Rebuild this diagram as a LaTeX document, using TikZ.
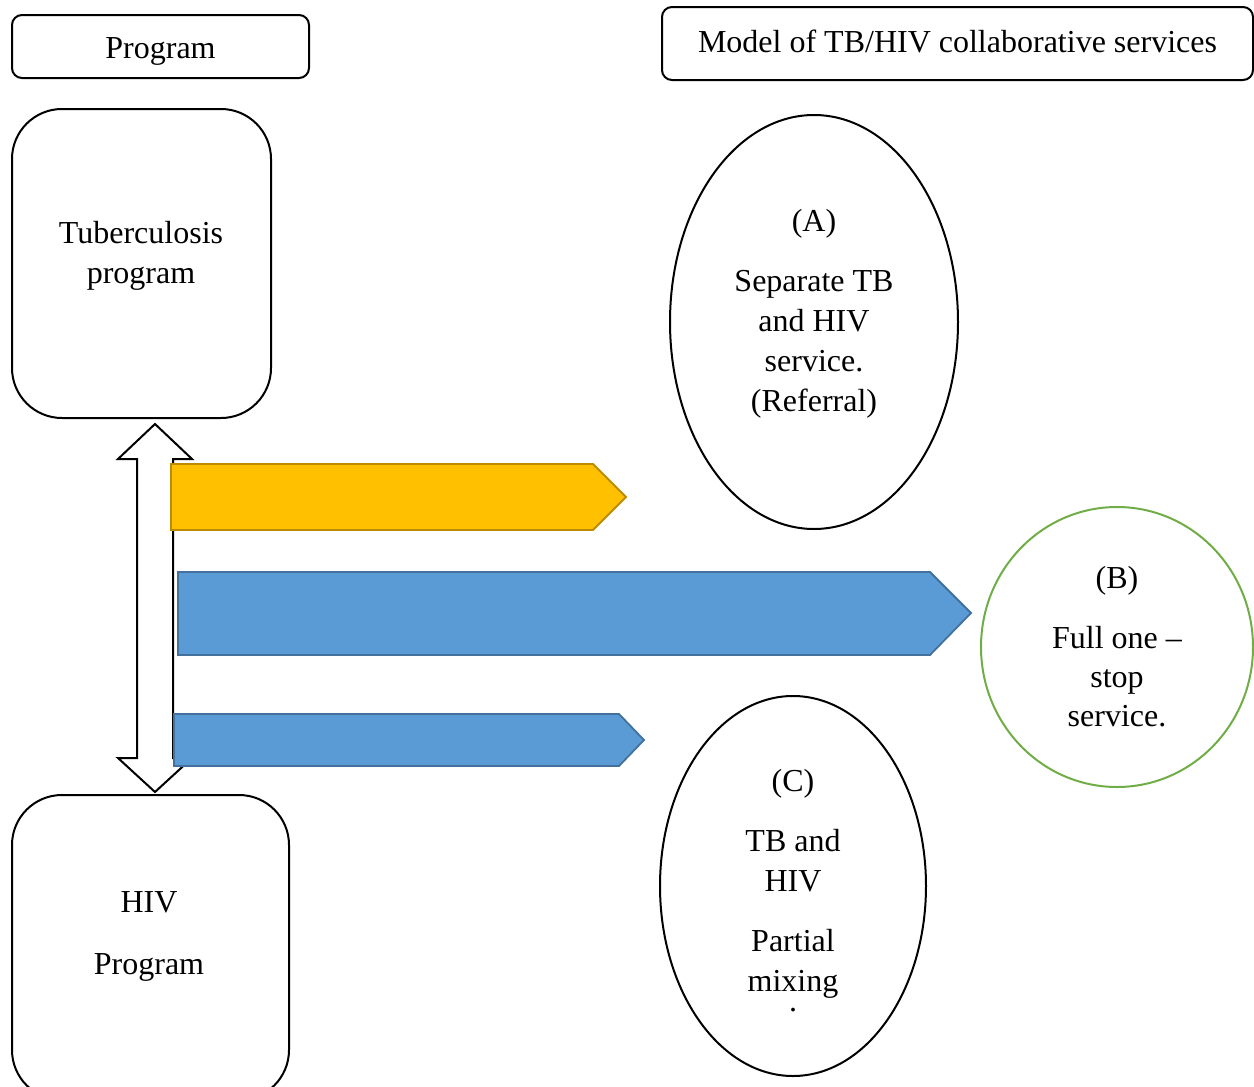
\documentclass[tikz,border=0pt]{standalone}
\usepackage{fontspec}
\setmainfont{Liberation Serif}
\usetikzlibrary{shapes.geometric,calc}
\definecolor{gold}{HTML}{FFC000}
\definecolor{goldline}{HTML}{BC8C00}
\definecolor{blu}{HTML}{5B9BD5}
\definecolor{bluline}{HTML}{41719C}
\definecolor{grn}{HTML}{70AD47}
\begin{document}
\begin{tikzpicture}[x=1pt,y=-1pt,
  box/.style={draw,line width=2pt,rounded corners=#1,inner sep=0pt},
  txt/.style={font=\fontsize{32}{40}\selectfont,align=center,inner sep=0pt},
  oval/.style={ellipse,draw,line width=2pt,inner sep=0pt},
  goldarrow/.style={fill=gold,draw=goldline,line width=1.8pt},
  bluarrow/.style={fill=blu,draw=bluline,line width=1.8pt},
  dblarrow/.style={fill=white,draw=black,line width=2pt}]
\useasboundingbox (0,0) rectangle (1254,1087);
% header boxes
\node[box=10pt,minimum width=297pt,minimum height=63pt] (prog) at (160.5,46.5) {};
\node[txt] (progtxt) at (160.5,51) {Program};
\node[box=10pt,minimum width=591pt,minimum height=73pt] (model) at (957.5,43.5) {};
\node[txt] (modeltxt) at (957.5,41) {Model of TB/HIV collaborative services};
% program boxes
\node[box=50pt,minimum width=259pt,minimum height=309pt] (tb) at (141.5,263.5) {};
\node[txt] (tbtxt) at (141,256) {Tuberculosis\\program};
\node[box=50pt,minimum width=277pt,minimum height=305pt] (hiv) at (150.5,947.5) {};
\node[txt] (hivtxt) at (149,936) {HIV\\[22pt]Program};
% double arrow between programs
\coordinate (dtop) at ($(tb.south)+(13.5,5)$);
\coordinate (dbot) at ($(hiv.north)+(4.5,-2)$);
\draw[dblarrow] (dtop) -- ++(37,35) -- ++(-19,0) -- ($(dbot)+(18,-34)$) -- ++(19,0)
  -- (dbot) -- ++(-37,-34) -- ++(19,0) -- ($(dtop)+(-18,35)$) -- ++(-19,0) -- cycle;
% ovals
\node[oval,minimum width=288pt,minimum height=414pt] (A) at (814,322) {};
\node[txt] (Atxt) at (814,314) {(A)\\[20pt]Separate TB\\and HIV\\service.\\(Referral)};
\node[oval,draw=grn,minimum width=272pt,minimum height=280pt] (B) at (1117,647) {};
\node[txt,font=\fontsize{32}{39}\selectfont] (Btxt) at (1117,647) {(B)\\[21pt]Full one --\\stop\\service.};
\node[oval,minimum width=266pt,minimum height=380pt] (C) at (793,886) {};
\node[txt] (Ctxt) at (793,890.5) {(C)\\[20pt]TB and\\HIV\\[20pt]Partial\\mixing\\[-20pt].};
% block arrows
\coordinate (ya) at (171,464);
\draw[goldarrow] (ya) -- (593,464) -- ($(A.west)+(-43,175)$) -- (593,530) -- (171,530) -- cycle;
\coordinate (ba) at (178,572);
\draw[bluarrow] (ba) -- (930,572) -- ($(B.west)+(-9,-34)$) -- (930,655) -- (178,655) -- cycle;
\coordinate (sa) at (174,714);
\draw[bluarrow] (sa) -- (619,714) -- ($(C.west)+(-15,-146)$) -- (619,766) -- (174,766) -- cycle;
\end{tikzpicture}
\end{document}
